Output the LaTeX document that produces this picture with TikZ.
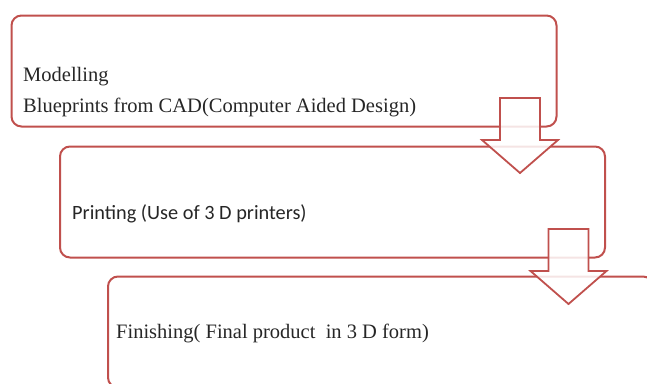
\documentclass[tikz,border=0pt]{standalone}
\usepackage{fontspec}
\setmainfont{Liberation Serif}
\newfontfamily\calibrifont{Carlito}
\usetikzlibrary{positioning}

\definecolor{stepred}{HTML}{C0504D}

\tikzset{
  stage/.style={draw=stepred, line width=2pt, rounded corners=10pt,
    minimum width=545pt, minimum height=111pt, inner sep=0pt, outer sep=0pt},
  steptext/.style={anchor=base west, inner sep=0pt, text=black!85,
    font=\fontsize{20.5}{24}\selectfont},
  blockarrow/.style={draw=stepred, line width=1.8pt, fill=white,
    fill opacity=0.85, line join=miter}
}

\begin{document}
\begin{tikzpicture}[x=1pt, y=-1pt]
    \useasboundingbox (0,0) rectangle (647,383);
    % Stages
    \node [stage] (model) at (284,71) {};
    \node [stage] (print) at (332.5,202) {};
    \node [stage] (finish) at (380.5,332) {};

    % Labels
    \node [steptext] (model text) at (23,81) {Modelling};
    \node [steptext] (cad text) at (23,112) {Blueprints from CAD(Computer Aided Design)};
    \node [steptext, font=\calibrifont\fontsize{20.3}{24}\selectfont] (print text) at (72,219)
        {Printing (Use of 3 D printers)};
    \node [steptext] (finish text) at (116,338) {Finishing( Final product\ \ in 3 D form)};

    % Arrows
    \draw [blockarrow] ([shift={(-56.5,-28.5)}]model.south east)
        -- ++(40,0) -- ++(0,42) -- ++(18,0) -- ++(-38,33) -- ++(-38,-33) -- ++(18,0) -- cycle;
    \draw [blockarrow] ([shift={(-56.5,-28.5)}]print.south east)
        -- ++(40,0) -- ++(0,42) -- ++(18,0) -- ++(-38,33) -- ++(-38,-33) -- ++(18,0) -- cycle;
\end{tikzpicture}
\end{document}
